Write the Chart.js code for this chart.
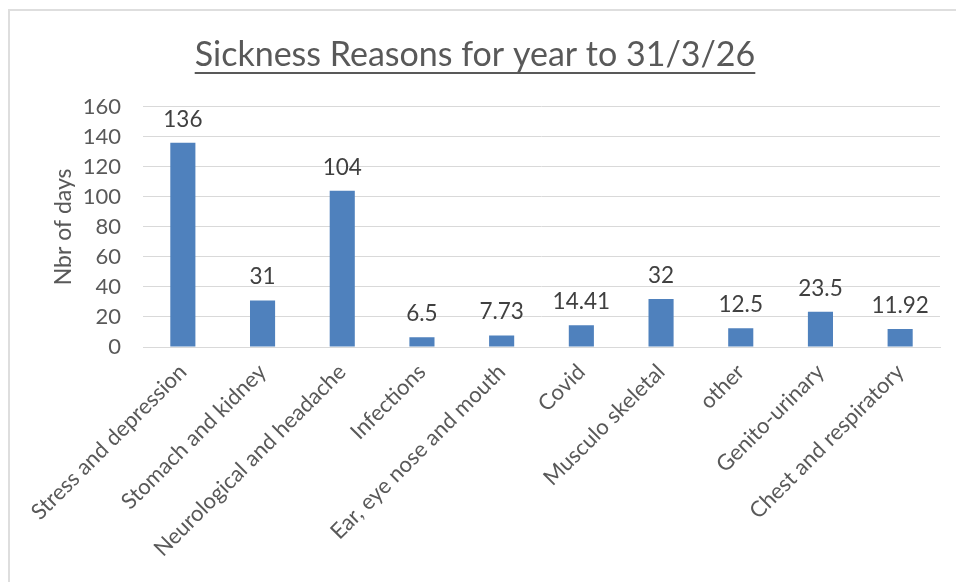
<!DOCTYPE html>
<html>
<head>
<meta charset="utf-8">
<script src="https://cdn.jsdelivr.net/npm/chart.js@4.4.1/dist/chart.umd.min.js"></script>
<style>
  html, body { margin: 0; padding: 0; background: #fff; }
  #wrap { position: relative; width: 956px; height: 582px; }
  #frame { position: absolute; left: 8px; top: 9px; right: -5px; bottom: -5px;
           border-top: 2px solid #dedede; border-left: 2px solid #dedede; }
  canvas { position: absolute; left: 0; top: 0; }
</style>
</head>
<body>
<div id="wrap">
  <div id="frame"></div>
  <canvas id="sickChart" width="956" height="582"></canvas>
</div>
<script>
// Chart data
const categories = ['Stress and depression', 'Stomach and kidney', 'Neurological and headache',
    'Infections', 'Ear, eye nose and mouth', 'Covid', 'Musculo skeletal', 'other',
    'Genito-urinary', 'Chest and respiratory'];
const days = [136, 31, 104, 6.5, 7.73, 14.41, 32, 12.5, 23.5, 11.92];
const yTicks = [0, 20, 40, 60, 80, 100, 120, 140, 160];

const FONT = "Lato, 'Liberation Sans', sans-serif";
const TITLE_SIZE = 34;

// values above each bar
const barLabels = {
    id: 'barLabels',
    afterDatasetsDraw(chart) {
        const ctx = chart.ctx;
        const meta = chart.getDatasetMeta(0);
        ctx.save();
        ctx.font = '22.5px ' + FONT;
        ctx.fillStyle = '#404040';
        ctx.textAlign = 'center';
        ctx.textBaseline = 'alphabetic';
        meta.data.forEach((bar, i) => {
            ctx.fillText(String(days[i]), bar.x, bar.y - 16);
        });
        ctx.restore();
    }
};

// underline the title like the original
const titleUnderline = {
    id: 'titleUnderline',
    afterDraw(chart) {
        const t = chart.titleBlock;
        if (!t) return;
        const ctx = chart.ctx;
        const text = chart.options.plugins.title.text;
        ctx.save();
        ctx.font = TITLE_SIZE + 'px ' + FONT;
        const w = ctx.measureText(text).width;
        const cx = (t.left + t.right) / 2;
        const y = 73;
        ctx.strokeStyle = '#595959';
        ctx.lineWidth = 2;
        ctx.beginPath();
        ctx.moveTo(cx - w / 2, y);
        ctx.lineTo(cx + w / 2, y);
        ctx.stroke();
        ctx.restore();
    }
};

new Chart(document.getElementById('sickChart').getContext('2d'), {
    type: 'bar',
    data: {
        labels: categories,
        datasets: [{
            label: 'Nbr of days',
            data: days,
            backgroundColor: '#4f81bd',
            borderWidth: 0,
            categoryPercentage: 1,
            barPercentage: 0.315
        }]
    },
    options: {
        responsive: false,
        animation: false,
        events: [],
        layout: { padding: { left: 10, right: 16, top: 12, bottom: 4 } },
        plugins: {
            legend: { display: false },
            tooltip: { enabled: false },
            title: {
                display: true,
                text: 'Sickness Reasons for year to 31/3/26',
                color: '#595959',
                font: { family: FONT, size: TITLE_SIZE, weight: 'normal' },
                padding: { top: 23, bottom: 31 }
            }
        },
        scales: {
            x: {
                grid: { display: false },
                border: { color: '#d9d9d9', width: 1 },
                ticks: {
                    color: '#595959',
                    font: { family: FONT, size: 22 },
                    maxRotation: 45,
                    minRotation: 45,
                    autoSkip: false,
                    padding: 4
                },
                afterFit: s => { s.height = 231; }
            },
            y: {
                min: 0,
                max: 160,
                afterBuildTicks: s => { s.ticks = yTicks.map(v => ({ value: v })); },
                grid: { color: '#d9d9d9', drawTicks: false },
                border: { display: false },
                ticks: {
                    color: '#595959',
                    font: { family: FONT, size: 22 },
                    padding: 22,
                    autoSkip: false
                },
                title: {
                    display: true,
                    text: 'Nbr of days',
                    color: '#595959',
                    font: { family: FONT, size: 23, weight: 'normal' },
                    padding: { top: 40, bottom: 0 }
                },
                afterFit: s => { s.width = 133; }
            }
        }
    },
    plugins: [barLabels, titleUnderline]
});
</script>
</body>
</html>
